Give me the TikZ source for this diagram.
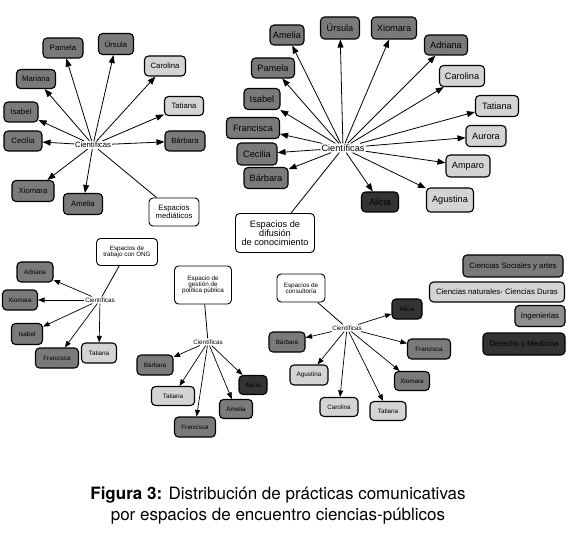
\documentclass[tikz,border=0pt]{standalone}
\usepackage{fontspec}
\setmainfont{Liberation Sans}
\newfontfamily\capfont{TeX Gyre Heros}
\usetikzlibrary{arrows.meta}
\definecolor{scgray}{HTML}{7A7A7A}
\definecolor{natgray}{HTML}{D4D4D4}
\definecolor{inggray}{HTML}{8E8E8E}
\definecolor{dmgray}{HTML}{333333}
\newcommand{\fsz}[1]{\fontsize{#1}{#1}\selectfont}
\tikzset{
  bx/.style={draw=black, line width=1.1pt, rounded corners=4pt, inner sep=1pt, align=center},
  sc/.style={bx, fill=scgray},
  nat/.style={bx, fill=natgray},
  ing/.style={bx, fill=inggray},
  dm/.style={bx, fill=dmgray},
  wb/.style={bx, fill=white, line width=0.9pt},
  ctr/.style={inner sep=1pt, fill=white},
  arr/.style={-{Triangle[length=8pt,width=6pt]}, line width=0.8pt},
  arrs/.style={-{Triangle[length=6.5pt,width=5pt]}, line width=0.7pt},
  ln/.style={line width=0.8pt},
  ftl/.style={font=\fsz{7.7}},
  ftr/.style={font=\fsz{9.2}},
  fbt/.style={font=\fsz{6.3}},
  flg/.style={font=\fsz{7.8}},
}
\begin{document}
\begin{tikzpicture}[x=1pt,y=-1pt]
\useasboundingbox (0,0) rectangle (578,537);
% ---------------- top-left cluster ----------------
\begin{scope}[every node/.append style={ftl}]
\node[ctr] (c1) at (93,145) {Científicas};
\node[sc, minimum width=40pt, minimum height=20pt] (a1) at (63,48) {Pamela};
\node[sc, minimum width=35pt, minimum height=21pt] (a2) at (116,44) {Úrsula};
\node[nat, minimum width=41pt, minimum height=20pt] (a3) at (165,66) {Carolina};
\node[sc, minimum width=39pt, minimum height=19pt] (a4) at (36,79) {Mariana};
\node[nat, minimum width=39pt, minimum height=19pt] (a5) at (184,106) {Tatiana};
\node[sc, minimum width=34pt, minimum height=20pt] (a6) at (21,112) {Isabel};
\node[sc, minimum width=38pt, minimum height=20pt] (a7) at (23,141) {Cecilia};
\node[sc, minimum width=40pt, minimum height=20pt] (a8) at (185,141) {Bárbara};
\node[sc, minimum width=42pt, minimum height=21pt] (a9) at (33,191) {Xiomara};
\node[sc, minimum width=39pt, minimum height=21pt] (a10) at (83,204) {Amelia};
\node[wb, minimum width=50pt, minimum height=28pt] (e1) at (174,212) {Espacios\\mediáticos};
\end{scope}
\foreach \n in {a1,a2,a3,a4,a5,a6,a7,a8,a9,a10} \draw[arr] (c1) -- (\n);
\draw[ln] (e1) -- (c1);
% ---------------- top-right cluster ----------------
\begin{scope}[every node/.append style={ftr}]
\node[ctr] (c2) at (343,148) {Científicas};
\node[sc, minimum width=34pt, minimum height=20pt] (b1) at (287,35) {Amelia};
\node[sc, minimum width=39pt, minimum height=22pt] (b2) at (340,28) {Úrsula};
\node[sc, minimum width=45pt, minimum height=22pt] (b3) at (394,28) {Xiomara};
\node[sc, minimum width=43pt, minimum height=20pt] (b4) at (446,45) {Adriana};
\node[sc, minimum width=43pt, minimum height=20pt] (b5) at (273,68) {Pamela};
\node[nat, minimum width=45pt, minimum height=21pt] (b6) at (462,76) {Carolina};
\node[sc, minimum width=36pt, minimum height=21pt] (b7) at (262,99) {Isabel};
\node[nat, minimum width=43pt, minimum height=21pt] (b8) at (497,106) {Tatiana};
\node[sc, minimum width=53pt, minimum height=21pt] (b9) at (253,128) {Francisca};
\node[nat, minimum width=40pt, minimum height=21pt] (b10) at (486,136) {Aurora};
\node[sc, minimum width=40pt, minimum height=22pt] (b11) at (257,154) {Cecilia};
\node[nat, minimum width=44pt, minimum height=22pt] (b12) at (468,166) {Amparo};
\node[sc, minimum width=44pt, minimum height=21pt] (b13) at (266,178) {Bárbara};
\node[dm, minimum width=37pt, minimum height=20pt] (b14) at (380,202) {Alicia};
\node[nat, minimum width=47pt, minimum height=24pt] (b15) at (450,200) {Agustina};
\node[wb, minimum width=79pt, minimum height=39pt] (e2) at (275,233) {Espacios de\\difusión\\de conocimiento};
\end{scope}
\foreach \n in {b1,b2,b3,b4,b5,b6,b7,b8,b9,b10,b11,b12,b13,b14,b15} \draw[arr] (c2) -- (\n);
\draw[ln] (e2) -- (c2);
% ---------------- bottom-left cluster ----------------
\begin{scope}[every node/.append style={fbt}]
\node[ctr] (c3) at (100,300) {Científicas};
\node[wb, minimum width=61pt, minimum height=27pt] (e3) at (127,252) {Espacios de\\trabajo con ONG};
\node[sc, minimum width=36pt, minimum height=20pt] (d1) at (35,272) {Adriana};
\node[sc, minimum width=35pt, minimum height=20pt] (d2) at (20,300) {Xiomara};
\node[sc, minimum width=31pt, minimum height=21pt] (d3) at (27,334) {Isabel};
\node[sc, minimum width=43pt, minimum height=20pt] (d4) at (57,358) {Francisca};
\node[nat, minimum width=35pt, minimum height=20pt] (d5) at (99,353) {Tatiana};
\end{scope}
\foreach \n in {d1,d2,d3,d4,d5} \draw[arrs] (c3) -- (\n);
\draw[ln] (e3) -- (c3);
% ---------------- bottom-middle cluster ----------------
\begin{scope}[every node/.append style={fbt}]
\node[ctr] (c4) at (208,342) {Científicas};
\node[wb, minimum width=57pt, minimum height=38pt] (e4) at (203,285) {Espacio de\\gestión de\\política pública};
\node[sc, minimum width=36pt, minimum height=20pt] (f1) at (155,365) {Bárbara};
\node[nat, minimum width=43pt, minimum height=19pt] (f2) at (173,396) {Tatiana};
\node[dm, minimum width=28pt, minimum height=19pt] (f3) at (253,385) {Alicia};
\node[sc, minimum width=33pt, minimum height=19pt] (f4) at (236,409) {Amelia};
\node[sc, minimum width=41pt, minimum height=20pt] (f5) at (195,427) {Francisca};
\end{scope}
\foreach \n in {f1,f2,f3,f4,f5} \draw[arrs] (c4) -- (\n);
\draw[ln] (e4) -- (c4);
% ---------------- bottom-right cluster ----------------
\begin{scope}[every node/.append style={fbt}]
\node[ctr] (c5) at (347,328) {Científicas};
\node[wb, minimum width=48pt, minimum height=28pt] (e5) at (301,288) {Espacios de\\consultoría};
\node[dm, minimum width=30pt, minimum height=20pt] (g1) at (407,309) {Alicia};
\node[sc, minimum width=36pt, minimum height=20pt] (g2) at (287,342) {Bárbara};
\node[sc, minimum width=43pt, minimum height=20pt] (g3) at (429,349) {Francisca};
\node[nat, minimum width=38pt, minimum height=20pt] (g4) at (309,375) {Agustina};
\node[sc, minimum width=35pt, minimum height=19pt] (g5) at (412,381) {Xiomara};
\node[nat, minimum width=38pt, minimum height=19pt] (g6) at (339,407) {Carolina};
\node[nat, minimum width=36pt, minimum height=19pt] (g7) at (388,411) {Tatiana};
\end{scope}
\foreach \n in {g1,g2,g3,g4,g5,g6,g7} \draw[arrs] (c5) -- (\n);
\draw[ln] (e5) -- (c5);
% ---------------- legend ----------------
\begin{scope}[every node/.append style={flg}]
\node[sc, minimum width=100pt, minimum height=22pt] (l1) at (513,266) {Ciencias Sociales y artes};
\node[nat, minimum width=135pt, minimum height=20pt] (l2) at (497,292) {Ciencias naturales- Ciencias Duras};
\node[ing, minimum width=50pt, minimum height=21pt] (l3) at (540,316) {Ingenierias};
\node[dm, minimum width=82pt, minimum height=22pt] (l4) at (524,344) {Derecho y Medicina};
\end{scope}
% ---------------- caption ----------------
\node[font=\capfont\fsz{17}, align=center] (cap) at (278,506) {{\bfseries Figura 3:} Distribución de prácticas comunicativas\\[4pt]por espacios de encuentro ciencias-públicos};
\end{tikzpicture}
\end{document}
